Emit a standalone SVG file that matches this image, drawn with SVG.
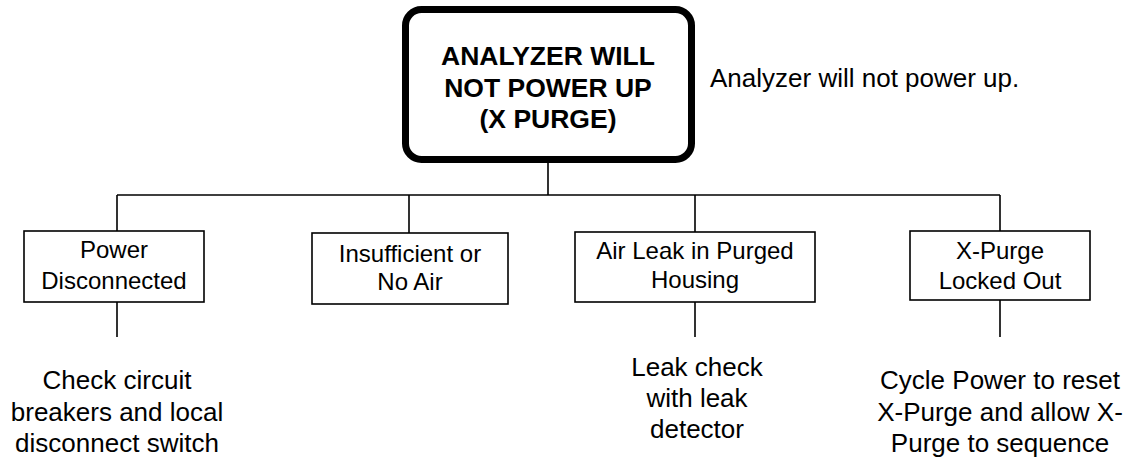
<svg xmlns="http://www.w3.org/2000/svg" width="1135" height="460" viewBox="0 0 1135 460">
<style>
text{font-family:"Liberation Sans",Arial,sans-serif;fill:#000;text-anchor:middle}
.t{font-weight:bold;font-size:26.5px}
.b{font-size:24px}
.n{font-size:26px}
.box{fill:#fff;stroke:#000;stroke-width:1.6}
.c{fill:none;stroke:#000;stroke-width:1.6}
</style>
<rect width="1135" height="460" fill="#fff"/>
<g id="connectors">
<path class="c" d="M548 163V195M117 195H1000M117 195V231M409 195V233M695 195V232M1000 195V231"/>
<path class="c" d="M117 302V337M695 302V337M1000 300V337"/>
</g>
<g id="root">
<rect x="405.5" y="9.5" width="286" height="150" rx="16" fill="#fff" stroke="#000" stroke-width="7"/>
<text class="t" x="548" y="65">ANALYZER WILL</text>
<text class="t" x="548" y="97">NOT POWER UP</text>
<text class="t" x="548" y="128">(X PURGE)</text>
</g>
<g id="root-note">
<text class="n" x="710" y="87" style="text-anchor:start">Analyzer will not power up.</text>
</g>
<g id="power">
<rect class="box" x="24" y="231" width="180" height="71"/>
<text class="b" x="114" y="258">Power</text>
<text class="b" x="114" y="289">Disconnected</text>
</g>
<g id="air">
<rect class="box" x="312" y="233" width="196" height="71"/>
<text class="b" x="410" y="262">Insufficient or</text>
<text class="b" x="410" y="290">No Air</text>
</g>
<g id="leak">
<rect class="box" x="575" y="232" width="240" height="70"/>
<text class="b" x="695" y="259">Air Leak in Purged</text>
<text class="b" x="695" y="288">Housing</text>
</g>
<g id="xpurge">
<rect class="box" x="910" y="231" width="180" height="69"/>
<text class="b" x="1000" y="259">X-Purge</text>
<text class="b" x="1000" y="289">Locked Out</text>
</g>
<g id="power-action">
<text class="n" x="117" y="389">Check circuit</text>
<text class="n" x="117" y="421">breakers and local</text>
<text class="n" x="117" y="452">disconnect switch</text>
</g>
<g id="leak-action">
<text class="n" x="697" y="376">Leak check</text>
<text class="n" x="697" y="407">with leak</text>
<text class="n" x="697" y="438">detector</text>
</g>
<g id="xpurge-action">
<text class="n" x="1000" y="389">Cycle Power to reset</text>
<text class="n" x="1000" y="421">X-Purge and allow X-</text>
<text class="n" x="1000" y="452">Purge to sequence</text>
</g>
</svg>
